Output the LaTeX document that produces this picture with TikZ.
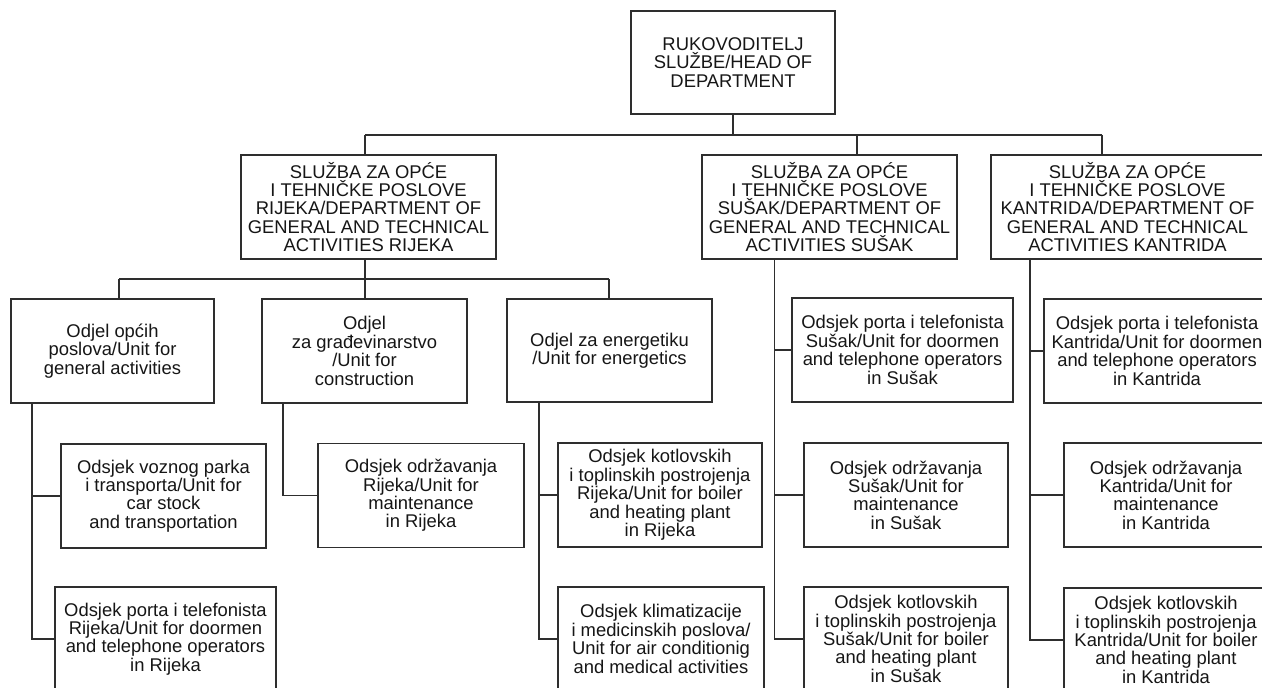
\documentclass[tikz,border=0pt]{standalone}
\usepackage{fontspec}
\setmainfont{Liberation Sans}
\definecolor{linecol}{HTML}{2E2E2E}
\definecolor{txtcol}{HTML}{161616}
\tikzset{
  box/.style={draw=linecol, line width=0.7pt, inner sep=0pt, align=center,
    text=txtcol, font=\fontsize{9.2}{9.2}\selectfont},
  conn/.style={draw=linecol, line width=0.7pt}
}
\begin{document}
\begin{tikzpicture}[x=0.5pt,y=-0.5pt]
\useasboundingbox (0,0) rectangle (1262,688);
\fill[white] (0,0) rectangle (1262,688);
\clip (0,0) rectangle (1262,688);

% level 0
\node[box, minimum width=102pt, minimum height=51.5pt] (head) at (733,62.5)
  {RUKOVODITELJ\\SLUŽBE/HEAD OF\\DEPARTMENT};

% level 1
\node[box, minimum width=127.5pt, minimum height=52pt] (rij) at (368.5,207)
  {SLUŽBA ZA OPĆE\\I TEHNIČKE POSLOVE\\RIJEKA/DEPARTMENT OF\\GENERAL AND TECHNICAL\\ACTIVITIES RIJEKA};
\node[box, minimum width=127.5pt, minimum height=52pt] (sus) at (829.5,207)
  {SLUŽBA ZA OPĆE\\I TEHNIČKE POSLOVE\\SUŠAK/DEPARTMENT OF\\GENERAL AND TECHNICAL\\ACTIVITIES SUŠAK};
\node[box, minimum width=136.5pt, minimum height=52pt] (kan) at (1127.5,207)
  {SLUŽBA ZA OPĆE\\I TEHNIČKE POSLOVE\\KANTRIDA/DEPARTMENT OF\\GENERAL AND TECHNICAL\\ACTIVITIES KANTRIDA};

% level 2 (Rijeka)
\node[box, minimum width=101.5pt, minimum height=52pt] (opcih) at (112.5,351)
  {Odjel općih\\poslova/Unit for\\general activities};
\node[box, minimum width=102.5pt, minimum height=52pt] (grad) at (364.5,351)
  {Odjel\\za građevinarstvo\\/Unit for\\construction};
\node[box, minimum width=102.5pt, minimum height=51.5pt] (ener) at (609.5,350.5)
  {Odjel za energetiku\\/Unit for energetics};

% level 3 (Rijeka)
\node[box, minimum width=102.5pt, minimum height=52pt] (car) at (163.5,496)
  {Odsjek voznog parka\\i transporta/Unit for\\car stock\\and transportation};
\node[box, minimum width=110.5pt, minimum height=52pt] (portaR) at (165.5,639)
  {Odsjek porta i telefonista\\Rijeka/Unit for doormen\\and telephone operators\\in Rijeka};
\node[box, minimum width=103pt, minimum height=52pt] (odrR) at (421,495.5)
  {Odsjek održavanja\\Rijeka/Unit for\\maintenance\\in Rijeka};
\node[box, minimum width=102pt, minimum height=52pt] (kotR) at (660,495)
  {Odsjek kotlovskih\\i toplinskih postrojenja\\Rijeka/Unit for boiler\\and heating plant\\in Rijeka};
\node[box, minimum width=103pt, minimum height=52pt] (klim) at (661,639)
  {Odsjek klimatizacije\\i medicinskih poslova/\\Unit for air conditionig\\and medical activities};

% Sušak
\node[box, minimum width=110.5pt, minimum height=52pt] (susP) at (902.5,350)
  {Odsjek porta i telefonista\\Sušak/Unit for doormen\\and telephone operators\\in Sušak};
\node[box, minimum width=102pt, minimum height=52pt] (susO) at (906,495)
  {Odsjek održavanja\\Sušak/Unit for\\maintenance\\in Sušak};
\node[box, minimum width=102pt, minimum height=52pt] (susK) at (906,639)
  {Odsjek kotlovskih\\i toplinskih postrojenja\\Sušak/Unit for boiler\\and heating plant\\in Sušak};

% Kantrida
\node[box, minimum width=113pt, minimum height=52pt] (kanP) at (1157,351)
  {Odsjek porta i telefonista\\Kantrida/Unit for doormen\\and telephone operators\\in Kantrida};
\node[box, minimum width=102pt, minimum height=52pt] (kanO) at (1166,495)
  {Odsjek održavanja\\Kantrida/Unit for\\maintenance\\in Kantrida};
\node[box, minimum width=102pt, minimum height=52pt] (kanK) at (1166,640)
  {Odsjek kotlovskih\\i toplinskih postrojenja\\Kantrida/Unit for boiler\\and heating plant\\in Kantrida};

% connectors: head to departments
\coordinate (hb) at (733,135);
\coordinate (bL) at (365,135);
\coordinate (bS) at (857,135);
\coordinate (bK) at (1102,135);
\draw[conn] (head.south) -- (hb);
\draw[conn] (bL) -- (bK);
\draw[conn] (bL) -- (bL |- rij.north);
\draw[conn] (bS) -- (bS |- sus.north);
\draw[conn] (bK) -- (bK |- kan.north);

% Rijeka department to units
\coordinate (rL) at (119,279);
\coordinate (rG) at (365,279);
\coordinate (rE) at (609,279);
\draw[conn] (rij.south -| rG) -- (rG |- grad.north);
\draw[conn] (rL) -- (rE);
\draw[conn] (rL) -- (rL |- opcih.north);
\draw[conn] (rE) -- (rE |- ener.north);

% unit trunks
\coordinate (tO) at (32,0);
\draw[conn] (tO |- opcih.south) |- (portaR.west);
\draw[conn] (tO |- car.west) -- (car.west);

\coordinate (tG) at (283,0);
\draw[conn] (tG |- grad.south) |- (odrR.west);

\coordinate (tE) at (539,0);
\draw[conn] (tE |- ener.south) |- (klim.west);
\draw[conn] (tE |- kotR.west) -- (kotR.west);

\coordinate (tS) at (774.5,0);
\draw[conn] (tS |- sus.south) |- (susK.west);
\draw[conn] (tS |- susP.west) -- (susP.west);
\draw[conn] (tS |- susO.west) -- (susO.west);

\coordinate (tK) at (1030,0);
\draw[conn] (tK |- kan.south) |- (kanK.west);
\draw[conn] (tK |- kanP.west) -- (kanP.west);
\draw[conn] (tK |- kanO.west) -- (kanO.west);
\end{tikzpicture}
\end{document}
